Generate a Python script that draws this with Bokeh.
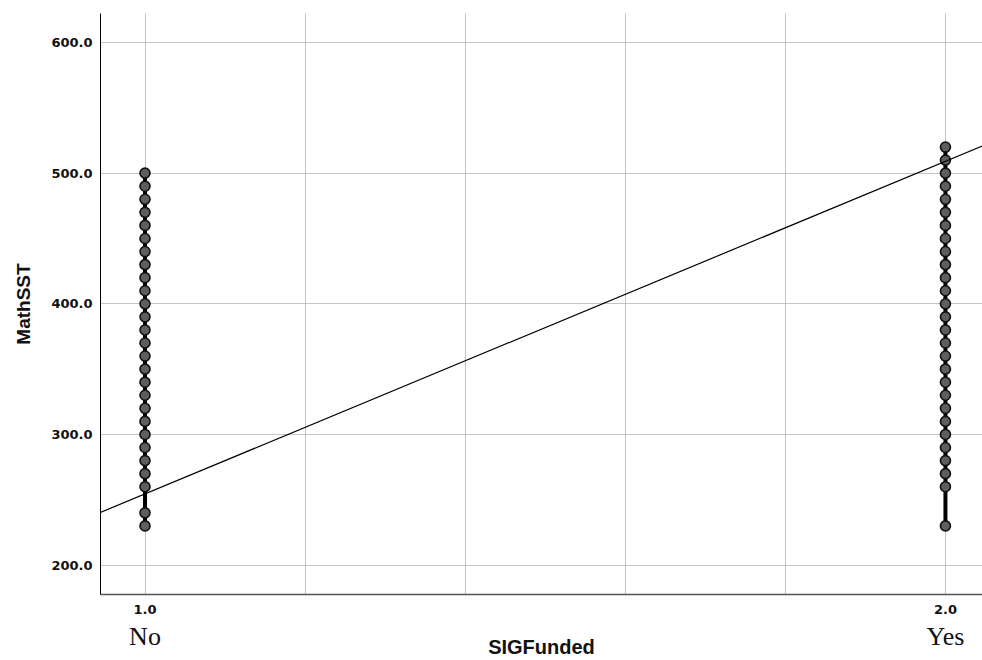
from bokeh.plotting import figure
from bokeh.models import LinearAxis, FixedTicker, Slope, ColumnDataSource, CustomJSTickFormatter
from bokeh.embed import file_html
from bokeh.resources import INLINE

# ---- data ----
group_codes = [1.0, 2.0]
group_names = ["No", "Yes"]
no_scores = [230, 240, 260, 270, 280, 290, 300, 310, 320, 330, 340, 350, 360, 370,
             380, 390, 400, 410, 420, 430, 440, 450, 460, 470, 480, 490, 500]
yes_scores = [230, 260, 270, 280, 290, 300, 310, 320, 330, 340, 350, 360, 370, 380,
              390, 400, 410, 420, 430, 440, 450, 460, 470, 480, 490, 500, 510, 520]
fit_at_no = 254.5
fit_at_yes = 509.1
y_ticks = [200, 300, 400, 500, 600]
x_ticks = [1.0, 2.0]
x_grid = [1.0, 1.2, 1.4, 1.6, 1.8, 2.0]

TICK_FONT = "DejaVu Sans"

p = figure(width=982, height=660, x_range=(0.9444, 2.0463), y_range=(177.5, 622.2),
           output_backend="svg", toolbar_location=None,
           min_border_left=100, min_border_right=0, min_border_top=13, min_border_bottom=10,
           x_axis_location=None)
p.outline_line_color = None
p.background_fill_color = "white"

# grids
p.xgrid.ticker = FixedTicker(ticks=x_grid)
p.ygrid.ticker = FixedTicker(ticks=y_ticks)
for g in (p.xgrid, p.ygrid):
    g.grid_line_color = "#c4c4c4"
    g.grid_line_width = 1

# y axis
ya = p.yaxis[0]
ya.ticker = FixedTicker(ticks=y_ticks)
ya.formatter = CustomJSTickFormatter(code="return tick.toFixed(1);")
ya.axis_label = "MathSST"
ya.axis_label_text_font = "Liberation Sans"
ya.axis_label_text_font_style = "bold"
ya.axis_label_text_font_size = "19px"
ya.axis_label_text_color = "#111111"
ya.axis_label_standoff = 14
ya.major_label_text_font = TICK_FONT
ya.major_label_text_font_style = "bold"
ya.major_label_text_font_size = "13px"
ya.major_label_text_color = "#111111"
ya.major_label_standoff = 8
ya.major_tick_out = 0
ya.major_tick_in = 0
ya.minor_tick_out = 0
ya.minor_tick_in = 0
ya.axis_line_color = "black"

# x axis: numeric ticks
xa = LinearAxis(ticker=FixedTicker(ticks=x_ticks),
                formatter=CustomJSTickFormatter(code="return tick.toFixed(1);"))
xa.major_label_text_font = TICK_FONT
xa.major_label_text_font_style = "bold"
xa.major_label_text_font_size = "13px"
xa.major_label_text_color = "#111111"
xa.major_label_standoff = 10
xa.major_tick_out = 0
xa.major_tick_in = 0
xa.minor_tick_out = 0
xa.minor_tick_in = 0
xa.axis_line_color = "#555555"
xa.axis_line_width = 1.5
p.add_layout(xa, "below")

# x axis: category names + title
xa2 = LinearAxis(ticker=FixedTicker(ticks=group_codes),
                 major_label_overrides={c: n for c, n in zip(group_codes, group_names)})
xa2.major_label_text_font = "Liberation Serif"
xa2.major_label_text_font_size = "26px"
xa2.major_label_text_color = "#111111"
xa2.major_label_standoff = 5
xa2.axis_line_color = None
xa2.major_tick_out = 0
xa2.major_tick_in = 0
xa2.minor_tick_out = 0
xa2.minor_tick_in = 0
xa2.axis_label = "SIGFunded"
xa2.axis_label_text_font = "Liberation Sans"
xa2.axis_label_text_font_style = "bold"
xa2.axis_label_text_font_size = "20px"
xa2.axis_label_text_color = "#111111"
xa2.axis_label_standoff = -18
p.add_layout(xa2, "below")

# data
xs = [group_codes[0]] * len(no_scores) + [group_codes[1]] * len(yes_scores)
ys = no_scores + yes_scores
src = ColumnDataSource(dict(x=xs, y=ys))

seg = ColumnDataSource(dict(x0=group_codes, x1=group_codes,
                            y0=[min(no_scores), min(yes_scores)],
                            y1=[max(no_scores), max(yes_scores)]))
p.segment(x0="x0", y0="y0", x1="x1", y1="y1", source=seg, line_color="black", line_width=4)
p.scatter("x", "y", source=src, size=10, fill_color="#5e5e5e", line_color="#111111",
          line_width=1.6)

# fit line
gradient = (fit_at_yes - fit_at_no) / (group_codes[1] - group_codes[0])
intercept = fit_at_no - gradient * group_codes[0]
p.add_layout(Slope(gradient=gradient, y_intercept=intercept, line_color="black", line_width=1.2))

open("out.html", "w").write(file_html(p, INLINE))
